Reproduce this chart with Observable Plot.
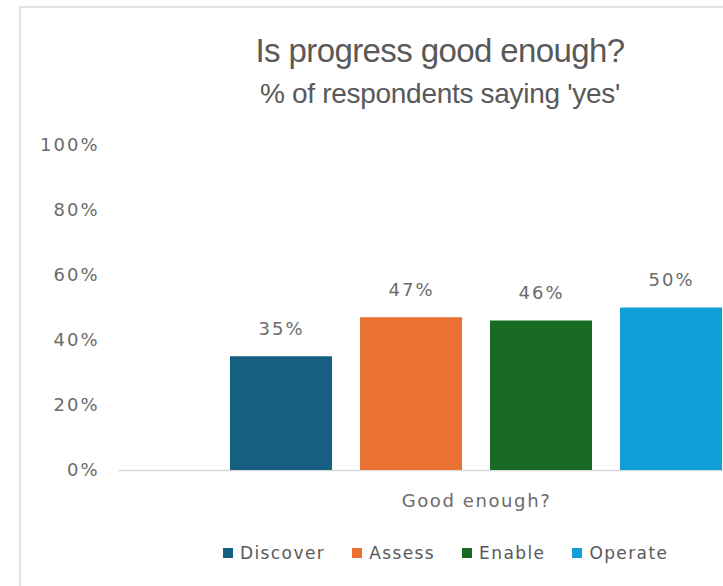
<!DOCTYPE html>
<html>
<head>
<meta charset="utf-8">
<script src="https://cdn.jsdelivr.net/npm/d3@7"></script>
<script src="https://cdn.jsdelivr.net/npm/@observablehq/plot@0.6"></script>
<style>
  html, body { margin: 0; padding: 0; background: white; }
  #page { position: relative; width: 723px; height: 586px; overflow: hidden; background: white; }
  #frame { position: absolute; left: 19px; top: 6px; width: 800px; height: 700px; z-index: 5;
           border-top: 2px solid #e2e2e2; border-left: 2px solid #e2e2e2; pointer-events: none; }
  #title { position: absolute; left: 0; width: 880px; top: 34px; text-align: center;
           font-family: "Liberation Sans", Arial, sans-serif; font-size: 33px; line-height: 1;
           color: #595959; letter-spacing: -0.6px; white-space: nowrap; }
  #subtitle { position: absolute; left: 0; width: 880px; top: 80px; text-align: center;
           font-family: "Liberation Sans", Arial, sans-serif; font-size: 28px; line-height: 1;
           color: #595959; letter-spacing: -0.3px; white-space: nowrap; }
  #chart { position: absolute; left: 0; top: 120px; width: 834px; }
  #chart svg text { letter-spacing: 2px; }
  #chart svg g[aria-label="fx-axis tick label"] text { letter-spacing: 1.6px; }
  #legend { position: absolute; left: 223px; top: 536px; width: 600px; }
  #legend div { font-family: "DejaVu Sans", sans-serif !important; font-size: 17px !important;
                color: #595959 !important; letter-spacing: 1.4px; background: transparent !important; }
  #legend .lg-swatch { margin-right: 27px !important; }
  #legend .lg-swatch > svg { margin-right: 7px !important; }
</style>
</head>
<body>
<div id="page">
  <div id="title">Is progress good enough?</div>
  <div id="subtitle">% of respondents saying 'yes'</div>
  <div id="chart"></div>
  <div id="legend"></div>
  <div id="frame"></div>
</div>
<script>
const categories = ["Discover", "Assess", "Enable", "Operate"];
const values = [35, 47, 46, 50];
const colors = ["#156082", "#E97132", "#196B24", "#0F9ED5"];
const question = "Good enough?";
const yTicks = [0, 20, 40, 60, 80, 100];

const data = categories.map((c, i) => ({question, category: c, value: values[i]}));
const textColor = "#6b6b6b";

const chart = Plot.plot({
  width: 834,
  height: 400,
  marginTop: 25,
  marginBottom: 50,
  marginLeft: 118,
  marginRight: 0,
  style: {fontFamily: "DejaVu Sans, sans-serif", maxWidth: "none", overflow: "visible", background: "transparent"},
  fx: {domain: [question], padding: 0},
  x: {domain: categories, paddingInner: 0.215, paddingOuter: 0.86, axis: null},
  y: {domain: [0, 100]},
  color: {domain: categories, range: colors},
  marks: [
    Plot.axisY({ticks: yTicks, tickFormat: d => d + "%", tickSize: 0, tickPadding: 19,
                fontSize: 18, color: textColor, label: null}),
    Plot.axisFx({anchor: "bottom", tickSize: 0, tickPadding: 24, fontSize: 18, color: textColor, label: null}),
    Plot.ruleY([0], {stroke: "#d9d9d9", strokeWidth: 1.5}),
    Plot.barY(data, {fx: "question", x: "category", y: "value", fill: "category"}),
    Plot.text(data, {fx: "question", x: "category", y: "value", text: d => d.value + "%",
                     dy: -28, fontSize: 18, fill: textColor})
  ]
});
document.getElementById("chart").appendChild(chart);

const legend = Plot.legend({
  color: {domain: categories, range: colors},
  legend: "swatches",
  swatchSize: 10,
  className: "lg"
});
document.getElementById("legend").appendChild(legend);
</script>
</body>
</html>
